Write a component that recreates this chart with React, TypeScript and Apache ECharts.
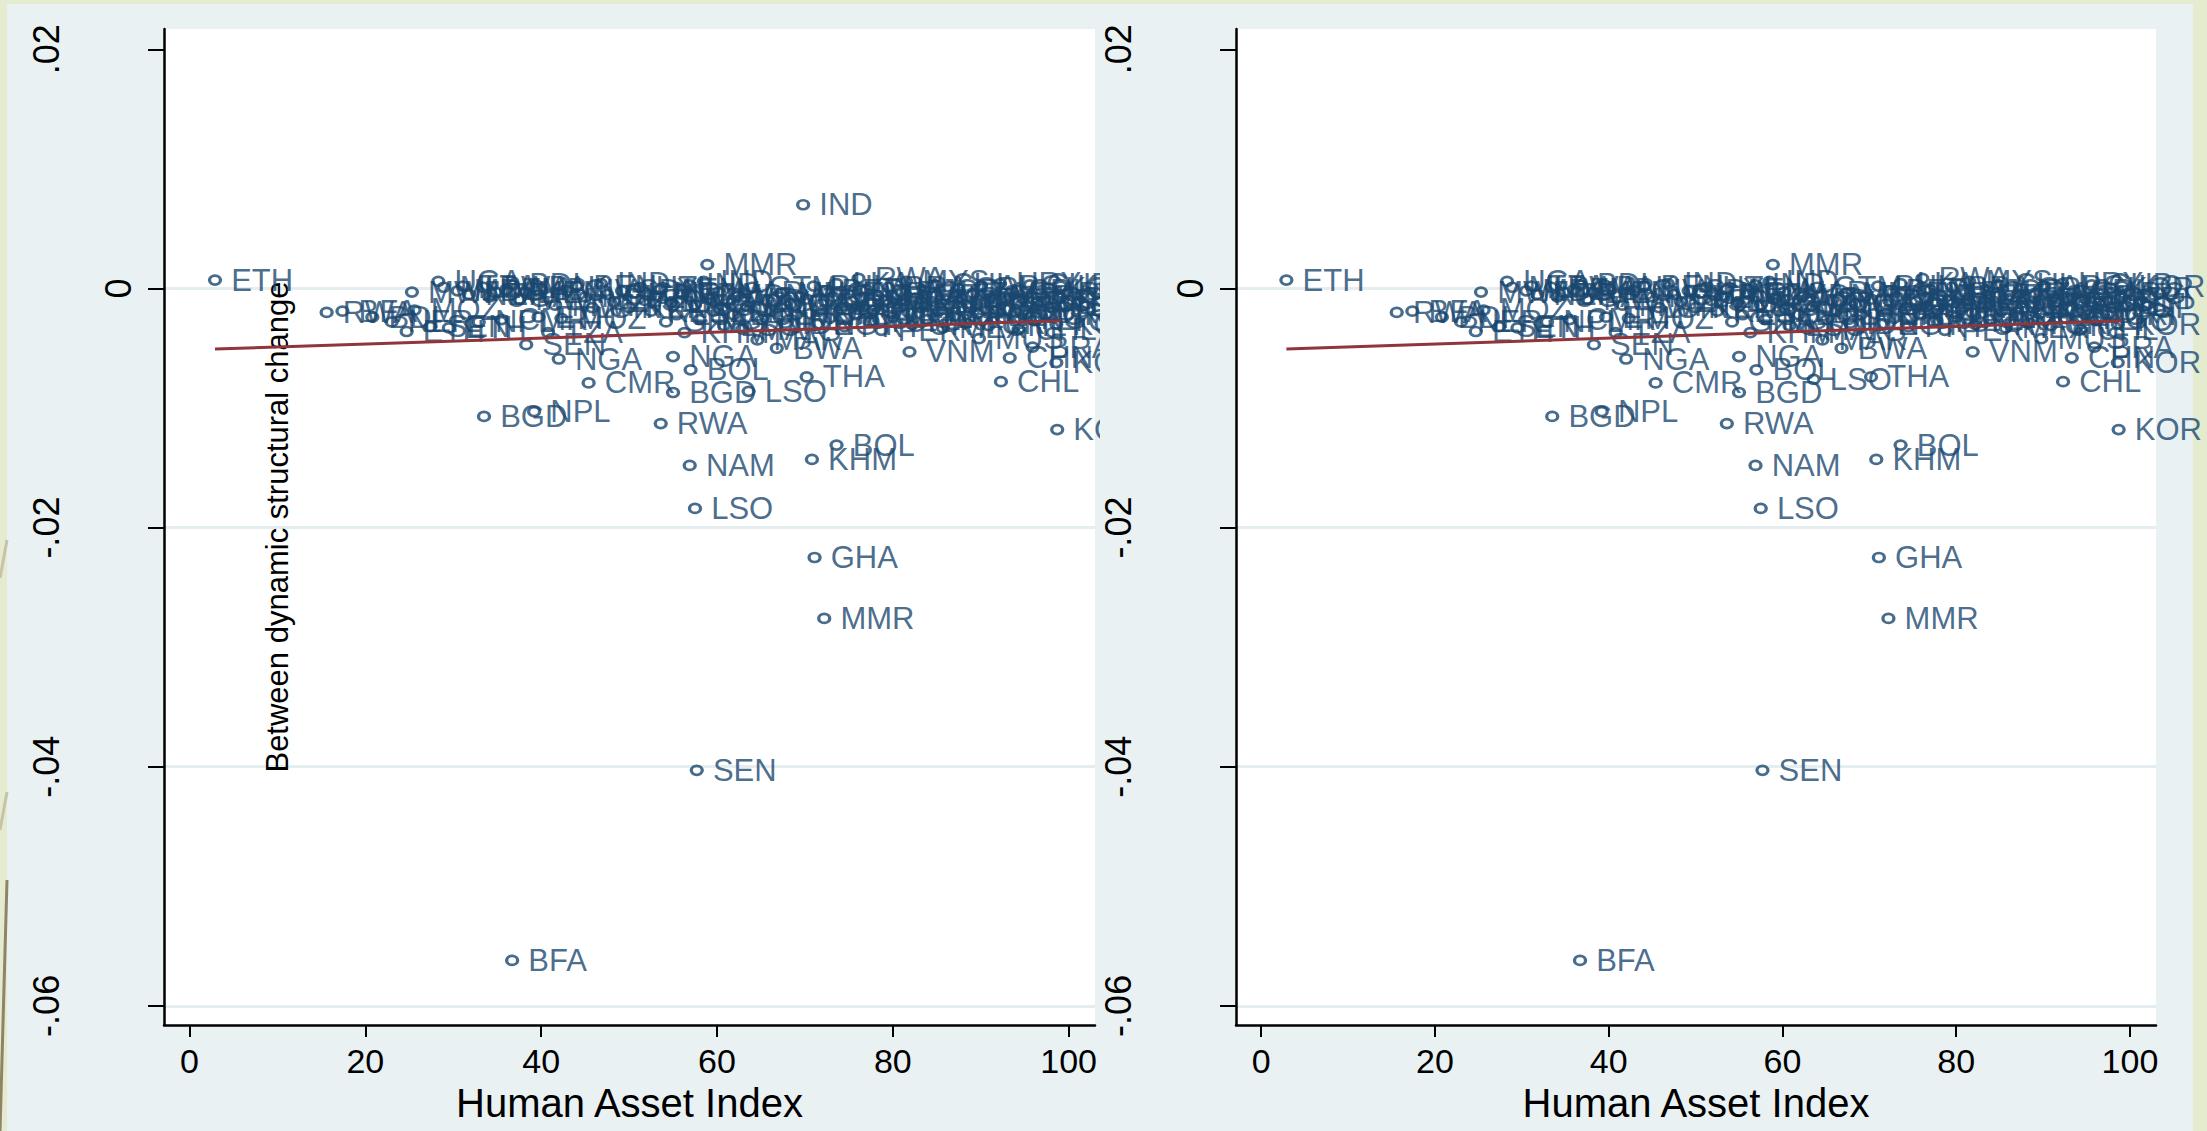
import React, { useEffect, useRef } from "react";
import * as echarts from "echarts";

const W = 2207;
const H = 1131;
const OLIVE = "#e5ebcf";
const PANEL = "#e9f1f3";
const NAVY = "#1a476f";
const MAROON = "#90353b";
const FONT = "'Liberation Sans', Arial, Helvetica, sans-serif";

// ---- shared observations (country code, Human Asset Index, between dynamic structural change)
const codes = [
  "ETH", "MMR", "BFA", "SEN", "MMR", "GHA", "LSO", "NAM", "KHM", "BOL", "RWA", "BGD", "NPL", "KOR",
  "CMR", "BGD", "THA", "CHL", "NGA", "NGA", "BOL", "SEN", "VNM", "CHN", "KOR", "BRA", "MUS",
  "RWA", "BFA", "BDI", "NER", "ETH", "MWI", "MOZ", "SEN", "UGA", "MLI", "ETH",
  "MDG", "TZA", "NER", "NPL", "RWA", "UGA", "MLI", "CMR", "ZMB", "BDI", "MWI", "KEN", "PAK", "ETH",
  "TZA", "MWI", "MOZ", "CIV", "BEN", "NPL", "GIN", "IND", "GHA", "ZWE", "SDN",
  "KEN", "CMR", "HTI", "SDN", "KEN", "PNG", "YEM", "GHA", "LAO", "LSO", "TZA", "KHM", "IND", "BGD",
  "NGA", "IND", "ZWE", "ZMB", "MAR", "LSO", "EGY", "BOL", "IDN", "MAR", "HND", "GTM", "MAR", "NIC",
  "SWZ", "PHL", "BWA", "MNG", "IDN", "GAB", "VNM", "BOL",
  "TUN", "IDN", "PHL", "EGY", "DOM", "PER", "ECU", "SLV", "LKA", "COL", "PRY", "TUR", "JAM", "BOL",
  "RWA", "PAN", "THA", "TUN", "CHN", "ZAF", "PER", "MEX", "BRA", "COL", "VEN", "ECU", "MYS", "CRI",
  "URY", "MUS", "IRN", "JOR", "LKA", "TTO", "CHL", "PAN", "MEX", "THA", "ARG", "URY", "CRI", "MYS",
  "TUR", "BRA", "ZAF", "FJI", "ARG", "KOR", "CHL", "SGP", "CUB", "URY", "ARG", "MUS", "CRI", "KOR",
  "CHL", "SGP", "MYS", "CUB", "TTO", "URY", "ARG", "CRI", "KOR", "SGP", "KOR", "CRI", "KOR",
];
const hai = [
  2.9, 58.9, 36.7, 57.7, 72.2, 71.1, 57.5, 56.9, 70.8, 73.6, 53.6, 33.5, 39.2, 98.7,
  45.4, 55.0, 70.2, 92.3, 42.0, 55.0, 57.0, 38.3, 81.9, 93.3, 98.6, 95.9, 89.8,
  15.6, 17.4, 20.8, 23.0, 24.7, 25.3, 25.6, 27.4, 28.3, 28.9, 29.5,
  30.5, 31.1, 31.8, 32.9, 33.4, 34.1, 34.8, 35.5, 36.0, 36.8, 37.5, 38.2, 39.0, 39.7,
  40.8, 41.6, 42.3, 43.0, 44.1, 45.0, 45.8, 46.8, 47.5, 48.3, 49.2,
  50.0, 50.6, 51.2, 51.8, 52.5, 53.0, 53.6, 54.2, 54.8, 55.4, 56.0, 56.3, 56.9, 57.5,
  58.0, 58.5, 59.1, 59.6, 60.2, 60.8, 61.3, 61.9, 62.4, 62.9, 63.4, 64.0, 64.6, 65.1,
  65.7, 66.2, 66.8, 67.3, 67.8, 68.4, 69.0, 69.5,
  70.2, 70.6, 71.0, 71.4, 71.9, 72.3, 72.8, 73.2, 73.6, 74.1, 74.5, 74.9, 75.4, 75.8,
  76.1, 76.6, 77.0, 77.4, 77.8, 78.2, 78.7, 79.1, 79.5, 80.0, 80.4, 80.9, 81.5, 81.8,
  82.2, 82.6, 83.1, 83.5, 83.9, 84.4, 84.8, 85.2, 85.7, 86.1, 86.5, 87.0, 87.4, 87.8,
  88.3, 88.7, 89.1, 89.6, 90.0, 90.4, 90.9, 91.3, 91.7, 92.2, 92.6, 93.0, 93.5, 93.9,
  94.3, 94.8, 95.2, 95.6, 96.1, 96.5, 96.9, 97.4, 97.8, 98.2, 98.6, 99.0, 99.1,
];
const dsc = [
  0.0007, 0.002, -0.0562, -0.0403, -0.0276, -0.0225, -0.0184, -0.0148, -0.0143, -0.0131, -0.0113, -0.0107, -0.0103, -0.0118,
  -0.0079, -0.0087, -0.0074, -0.0078, -0.0059, -0.0057, -0.0068, -0.0047, -0.0053, -0.0058, -0.0062, -0.0049, -0.0042,
  -0.002, -0.0019, -0.0024, -0.0028, -0.0036, -0.0003, -0.0018, -0.0032, 0.0006, 0.0001, -0.0033,
  -0.0002, 0.0002, -0.0005, -0.0028, 0.0001, -0.0007, -0.0003, -0.0026, -0.0001, 0.0003, -0.0009, -0.0003, 0.0001, -0.0024,
  -0.0037, -0.0014, -0.0025, -0.0002, 0.0002, -0.0007, -0.0016, 0.0004, -0.0005, -0.0011, -0.0002,
  -0.0016, -0.0004, 0.0001, -0.001, -0.0019, -0.0006, -0.0001, -0.0028, -0.0012, -0.0022, -0.0005, -0.0037, 0.0003, -0.0014,
  -0.0026, 0.0006, -0.0009, -0.0019, -0.0003, -0.0031, -0.0012, -0.0022, -0.0006, -0.0034, -0.0015, 0.0001, -0.0043, -0.0026,
  -0.001, -0.0019, -0.005, -0.0004, -0.0029, -0.0013, -0.0022, -0.0007,
  -0.0009, -0.0021, 0.0002, -0.003, -0.0013, -0.0002, -0.0025, -0.0007, 0.0004, -0.0017, -0.0032, -0.0004, -0.0011, -0.0022,
  0.00085, -0.0015, -0.0001, -0.0028, -0.0018, -0.0006, -0.0035, -0.001, 0.0001, -0.0024, -0.0013, -0.0003, 0.0006, -0.002,
  -0.003, -0.0008, -0.0016, -0.0002, -0.0026, -0.0011, 0.0003, -0.0019, -0.0033, -0.0006, -0.0014, -0.0023, 0.0, -0.0009,
  -0.0029, -0.0016, -0.0004, -0.0021, 0.0002, -0.0012, -0.0031, -0.0007, -0.0018, 0.0004, -0.0025, -0.001, -0.0002, -0.002,
  -0.0034, -0.0008, -0.0015, 0.0003, -0.0027, -0.0011, -0.0004, -0.0022, 0.0, -0.0016, -0.003, -0.0008, 0.0002,
];

// ---- observations that differ between the two panels
const leftOnlyCodes = ["IND", "LSO"];
const leftOnlyX = [69.8, 63.6];
const leftOnlyY = [0.007, -0.0086];
const rightOnlyCodes = ["LSO"];
const rightOnlyX = [63.6];
const rightOnlyY = [-0.0076];

// ---- fitted line
const fitX = [2.9, 99.1];
const fitY = [-0.00507, -0.00269];

// ---- axes
const xTicks = [0, 20, 40, 60, 80, 100];
const yTicks = [-0.06, -0.04, -0.02, 0, 0.02];
const yTickText = ["-.06", "-.04", "-.02", "0", ".02"];
const gridY = [0, -0.02, -0.04, -0.06];
const xRange = [-2.9, 103];
const yRange = [-0.0616, 0.0217];

type Pt = [number, number, string];

function buildPoints(extraCodes: string[], extraX: number[], extraY: number[]): Pt[] {
  const pts: Pt[] = codes.map((c, i) => [hai[i], dsc[i], c]);
  extraCodes.forEach((c, i) => pts.push([extraX[i], extraY[i], c]));
  return pts;
}

function yLabel(v: number): string {
  const i = yTicks.findIndex((t) => Math.abs(t - v) < 1e-9);
  const s = i >= 0 ? yTickText[i] : String(v);
  return s === "0" ? "{z|0}" : "{n|" + s + "}";
}

const RING = "path://M0,5a6,5 0 1,0 12,0a6,5 0 1,0 -12,0z";

function makeOption(gridLeft: number, pts: Pt[], showTitle: boolean, decorations: any[]) {
  return {
    animation: false,
    backgroundColor: "transparent",
    graphic: decorations,
    grid: {
      left: gridLeft,
      top: 29,
      width: 937,
      height: 996,
      show: true,
      backgroundColor: "#ffffff",
      borderWidth: 0,
      z: 0,
    },
    xAxis: {
      type: "value",
      z: 2,
      min: xRange[0],
      max: xRange[1],
      axisLine: { show: true, onZero: false, lineStyle: { color: "#000", width: 2.5 } },
      axisTick: { show: true, length: 12, customValues: xTicks, lineStyle: { color: "#000", width: 2 } },
      axisLabel: {
        customValues: xTicks,
        margin: 19,
        fontSize: 34,
        color: "#000",
        fontFamily: FONT,
        formatter: (v: number) => String(v),
      },
      splitLine: { show: false },
      name: "Human Asset Index",
      nameLocation: "middle",
      nameGap: 43,
      nameTextStyle: { fontSize: 40, color: "#000", fontFamily: FONT },
    },
    yAxis: {
      type: "value",
      z: 2,
      min: yRange[0],
      max: yRange[1],
      axisLine: { show: true, onZero: false, lineStyle: { color: "#000", width: 2.5 } },
      axisTick: { show: true, length: 16, customValues: yTicks, lineStyle: { color: "#000", width: 2 } },
      axisLabel: {
        customValues: yTicks,
        rotate: 90,
        margin: 28,
        color: "#000",
        fontFamily: FONT,
        formatter: yLabel,
        rich: {
          z: { fontSize: 36, color: "#000", fontFamily: FONT },
          n: { fontSize: 36, color: "#000", fontFamily: FONT, padding: [0, 0, 72, 0] },
        },
      },
      splitLine: { show: false },
      name: showTitle ? "Between dynamic structural change" : "",
      nameLocation: "middle",
      nameRotate: 90,
      nameGap: -129,
      nameTextStyle: { fontSize: 31, color: "#000", fontFamily: FONT },
    },
    series: [
      {
        type: "scatter",
        data: [],
        z: 1,
        silent: true,
        markLine: {
          z: 1,
          silent: true,
          symbol: "none",
          animation: false,
          label: { show: false },
          lineStyle: { color: "#e4edf0", width: 3, type: "solid" },
          data: gridY.map((v) => ({ yAxis: v })),
        },
      },
      {
        type: "scatter",
        z: 3,
        data: pts,
        symbol: RING,
        symbolSize: [11, 9],
        itemStyle: { color: "rgba(255,255,255,0)", borderColor: NAVY, borderWidth: 3 },
        label: {
          show: true,
          position: "right",
          distance: 9,
          color: NAVY,
          fontSize: 31,
          fontFamily: FONT,
          formatter: (p: any) => p.value[2],
        },
      },
      {
        type: "line",
        z: 5,
        data: fitX.map((x, i) => [x, fitY[i]]),
        symbol: "none",
        lineStyle: { color: MAROON, width: 3 },
      },
    ],
  };
}

const leftDecor = [
  { type: "line", shape: { x1: 0, y1: 578, x2: 7, y2: 540 }, style: { stroke: "#c9c3a6", lineWidth: 3 } },
  { type: "line", shape: { x1: 0, y1: 830, x2: 7, y2: 792 }, style: { stroke: "#c9c3a6", lineWidth: 3 } },
  { type: "line", shape: { x1: 0, y1: 1131, x2: 7, y2: 880 }, style: { stroke: "#8f8466", lineWidth: 3 } },
];

export default function App() {
  const leftRef = useRef<HTMLDivElement>(null);
  const rightRef = useRef<HTMLDivElement>(null);

  useEffect(() => {
    document.body.style.margin = "0";
    const l = echarts.init(leftRef.current as HTMLDivElement, undefined, { renderer: "svg" });
    const r = echarts.init(rightRef.current as HTMLDivElement, undefined, { renderer: "svg" });
    l.setOption(makeOption(164, buildPoints(leftOnlyCodes, leftOnlyX, leftOnlyY), true, leftDecor));
    r.setOption(makeOption(119, buildPoints(rightOnlyCodes, rightOnlyX, rightOnlyY), false, []));
    return () => {
      l.dispose();
      r.dispose();
    };
  }, []);

  return (
    <div style={{ position: "relative", width: W, height: H, background: OLIVE, overflow: "hidden" }}>
      <div style={{ position: "absolute", left: 7, top: 4, width: 2186, height: 1127, background: PANEL }} />
      <div
        ref={leftRef}
        style={{ position: "absolute", left: 0, top: 0, width: 1100, height: H, overflow: "hidden" }}
      />
      <div
        ref={rightRef}
        style={{ position: "absolute", left: 1100, top: 0, width: 1107, height: H, overflow: "hidden" }}
      />
    </div>
  );
}
